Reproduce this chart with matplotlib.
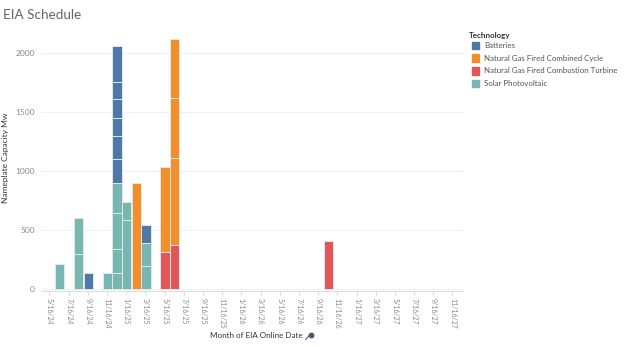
import matplotlib
matplotlib.use("Agg")
import matplotlib.pyplot as plt
from matplotlib.patches import Rectangle
from matplotlib.lines import Line2D

plt.rcParams["font.family"] = ["Lato", "DejaVu Sans"]

# one row per plant segment (Tableau stacks each plant separately)
months = ["2024-06", "2024-08", "2024-08", "2024-09", "2024-11",
          "2024-12", "2024-12", "2024-12", "2024-12",
          "2024-12", "2024-12", "2024-12", "2024-12", "2024-12", "2024-12",
          "2025-01", "2025-01", "2025-02",
          "2025-03", "2025-03", "2025-03",
          "2025-05", "2025-05",
          "2025-06", "2025-06", "2025-06", "2025-06",
          "2026-10"]
techs = ["Solar Photovoltaic", "Solar Photovoltaic", "Solar Photovoltaic", "Batteries", "Solar Photovoltaic",
         "Solar Photovoltaic", "Solar Photovoltaic", "Solar Photovoltaic", "Solar Photovoltaic",
         "Batteries", "Batteries", "Batteries", "Batteries", "Batteries", "Batteries",
         "Solar Photovoltaic", "Solar Photovoltaic", "Natural Gas Fired Combined Cycle",
         "Solar Photovoltaic", "Solar Photovoltaic", "Batteries",
         "Natural Gas Fired Combustion Turbine", "Natural Gas Fired Combined Cycle",
         "Natural Gas Fired Combustion Turbine", "Natural Gas Fired Combined Cycle",
         "Natural Gas Fired Combined Cycle", "Natural Gas Fired Combined Cycle",
         "Natural Gas Fired Combustion Turbine"]
capacity_mw = [210, 300, 300, 140, 140,
               136, 204, 307, 249,
               204, 199, 156, 156, 150, 299,
               590, 150, 900,
               193, 198, 154,
               312, 726,
               371, 744, 505, 502,
               410]

tech_order = ["Batteries", "Natural Gas Fired Combined Cycle",
              "Natural Gas Fired Combustion Turbine", "Solar Photovoltaic"]
tech_colors = ["#4e79a7", "#f28e2b", "#e15759", "#76b7b2"]

tick_labels = ["5/16/24", "7/16/24", "9/16/24", "11/16/24", "1/16/25", "3/16/25",
               "5/16/25", "7/16/25", "9/16/25", "11/16/25", "1/16/26", "3/16/26",
               "5/16/26", "7/16/26", "9/16/26", "11/16/26", "1/16/27", "3/16/27",
               "5/16/27", "7/16/27", "9/16/27", "11/16/27"]


def month_index(year, month):
    return (year - 2024) * 12 + month - 5


fig = plt.figure(figsize=(6.24, 3.47), dpi=100)
ax = fig.add_axes([0.067, 0.161, 0.675, 0.753])

colors = dict(zip(tech_order, tech_colors))
# stack bottom -> top in reverse legend order
stack_rank = {t: i for i, t in enumerate(reversed(tech_order))}
rows = sorted(range(len(months)), key=lambda i: (months[i], stack_rank[techs[i]]))
base = {}
for i in rows:
    y, m = months[i].split("-")
    x = month_index(int(y), int(m))
    b = base.get(x, 0)
    ax.bar(x, capacity_mw[i], bottom=b, width=0.98, color=colors[techs[i]],
           edgecolor="#e6e6e6", linewidth=0.7, zorder=3)
    base[x] = b + capacity_mw[i]

tick_pos = []
for lab in tick_labels:
    m, d, y = lab.split("/")
    tick_pos.append(month_index(2000 + int(y), int(m)) - 0.05)
ax.set_xticks(tick_pos)
ax.set_xticklabels(tick_labels, rotation=-90, fontsize=5, color="#8a8a8a")
ax.set_xlim(-0.85, 43.05)
ax.set_ylim(-18, 2200)
ax.set_yticks([0, 500, 1000, 1500, 2000])
ax.set_yticklabels(["0", "500", "1000", "1500", "2000"], fontsize=6, color="#8a8a8a")
ax.tick_params(axis="y", length=0, pad=5)
ax.tick_params(axis="x", length=3, color="#dddddd", pad=2)
ax.grid(axis="y", color="#f0f0f0", linewidth=0.8, zorder=0)
for s in ["top", "right", "left"]:
    ax.spines[s].set_visible(False)
ax.spines["bottom"].set_color("#dddddd")

fig.text(0.009, 0.545, "Nameplate Capacity Mw", fontsize=6, color="#333333",
         rotation=90, ha="center", va="center")
fig.text(0.41, 0.032, "Month of EIA Online Date", fontsize=5.8, color="#333333",
         ha="center", va="center")
# little pin icon next to the axis title
fig.add_artist(Line2D([0.49, 0.496], [0.022, 0.034], transform=fig.transFigure,
                      color="#4a5a70", linewidth=0.8))
fig.add_artist(Line2D([0.498], [0.036], transform=fig.transFigure, marker="o",
                      markersize=3.2, color="#4a5a70", linestyle="none"))

fig.text(0.005, 0.957, "EIA Schedule", fontsize=9.7, color="#666666", va="center")

# legend
fig.text(0.751, 0.898, "Technology", fontsize=5.8, color="#333333",
         fontweight="bold", va="center")
for k, (t, c) in enumerate(zip(tech_order, tech_colors)):
    yy = 0.869 - k * 0.0365
    fig.patches.append(Rectangle((0.757, yy - 0.011), 0.0105, 0.022,
                                 transform=fig.transFigure, color=c))
    fig.text(0.776, yy, t, fontsize=5.7, color="#555555", va="center")

fig.savefig("out.png", dpi=100)
